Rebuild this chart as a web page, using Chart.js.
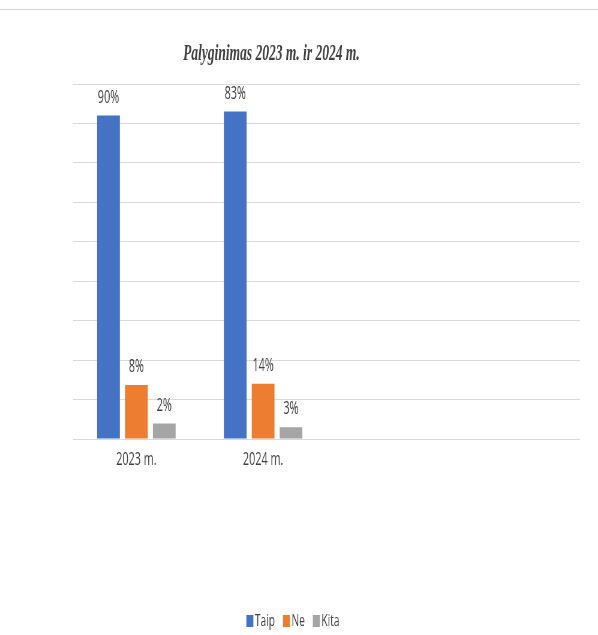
<!DOCTYPE html>
<html>
<head>
<meta charset="utf-8">
<script src="https://cdn.jsdelivr.net/npm/chart.js@4.4.0/dist/chart.umd.min.js"></script>
<style>
  html, body { margin: 0; padding: 0; background: #fff; }
  #wrap { position: relative; width: 598px; height: 635px; overflow: hidden; }
  #topLine { position: absolute; left: 0; top: 9px; width: 598px; height: 1px; background: #d6d6d6; }
  #chart { position: absolute; left: 0; top: 0; }
</style>
</head>
<body>
<div id="wrap">
  <div id="topLine"></div>
  <canvas id="chart" width="997" height="635" style="width:598px;height:635px"></canvas>
</div>
<script>
// data (bar heights on a 0-90 scale, labels as printed)
const categories = ['2023 m.', '2024 m.', '', ''];
const seriesNames = ['Taip', 'Ne', 'Kita'];
const taipValues = [82, 83, 0, 0];
const neValues = [13.7, 14, 0, 0];
const kitaValues = [3.9, 3, 0, 0];
const taipLabels = ['90%', '83%', '', ''];
const neLabels = ['8%', '14%', '', ''];
const kitaLabels = ['2%', '3%', '', ''];
const yTicks = [0, 10, 20, 30, 40, 50, 60, 70, 80, 90];
const chartTitle = 'Palyginimas 2023 m. ir 2024 m.';

// canvas is drawn wider and squeezed back to 598px, so text looks condensed
const SQ = 0.6;
const X = v => v / SQ;

const valueLabels = [taipLabels, neLabels, kitaLabels];
const colors = ['#4472C4', '#ED7D31', '#A5A5A5'];
const textColor = '#404040';

const labelPlugin = {
    id: 'barLabels',
    afterDatasetsDraw(chart) {
        const ctx = chart.ctx;
        ctx.save();
        ctx.font = '18px "Open Sans"';
        ctx.fillStyle = textColor;
        ctx.textAlign = 'center';
        ctx.textBaseline = 'middle';
        chart.data.datasets.forEach((ds, i) => {
            chart.getDatasetMeta(i).data.forEach((bar, j) => {
                const txt = valueLabels[i][j];
                if (!txt) return;
                ctx.fillText(txt, bar.x, bar.y - 18);
            });
        });
        ctx.restore();
    }
};

const titlePlugin = {
    id: 'sideTitle',
    afterDraw(chart) {
        const ctx = chart.ctx;
        ctx.save();
        ctx.font = 'italic bold 22.5px "Liberation Serif"';
        ctx.fillStyle = textColor;
        ctx.textAlign = 'center';
        ctx.textBaseline = 'middle';
        ctx.fillText(chartTitle, X(271.5), 54);
        ctx.restore();
    }
};

const legendPlugin = {
    id: 'bottomLegend',
    afterDraw(chart) {
        const ctx = chart.ctx;
        ctx.save();
        ctx.font = '17px "Open Sans"';
        ctx.textBaseline = 'middle';
        ctx.textAlign = 'left';
        const box = X(7), gap = X(1.5), spacing = X(8);
        const items = chart.data.datasets.map(ds => ({ text: ds.label, color: ds.backgroundColor, w: ctx.measureText(ds.label).width }));
        let total = 0;
        items.forEach((it, i) => { total += box + gap + it.w + (i < items.length - 1 ? spacing : 0); });
        let x = X(293) - total / 2;
        const cy = 621;
        items.forEach(it => {
            ctx.fillStyle = it.color;
            ctx.fillRect(x, cy - 6, box, 12);
            x += box + gap;
            ctx.fillStyle = textColor;
            ctx.fillText(it.text, x, cy);
            x += it.w + spacing;
        });
        ctx.restore();
    }
};

const ctx = document.getElementById('chart').getContext('2d');
const chart = new Chart(ctx, {
    type: 'bar',
    data: {
        labels: categories,
        datasets: [
            { label: seriesNames[0], data: taipValues, backgroundColor: colors[0] },
            { label: seriesNames[1], data: neValues, backgroundColor: colors[1] },
            { label: seriesNames[2], data: kitaValues, backgroundColor: colors[2] }
        ]
    },
    options: {
        responsive: false,
        animation: false,
        devicePixelRatio: 1,
        categoryPercentage: 0.66,
        barPercentage: 0.815,
        layout: {
            padding: { top: 84, left: X(73), right: X(598 - 580), bottom: 136 }
        },
        plugins: {
            legend: { display: false },
            title: { display: false },
            tooltip: { enabled: false }
        },
        scales: {
            x: {
                grid: { display: false, drawTicks: false },
                border: { display: false },
                ticks: {
                    color: textColor,
                    font: { family: 'Open Sans', size: 18 },
                    padding: 10
                },
                // the plot area runs a little past the last category
                afterDataLimits: s => { s.max = categories.length - 1 + 0.122; },
                afterFit: s => { s.height = 60; }
            },
            y: {
                min: 0,
                max: yTicks[yTicks.length - 1],
                afterBuildTicks: s => { s.ticks = yTicks.map(v => ({ value: v })); },
                ticks: { display: false },
                grid: { color: '#d9d9d9', drawTicks: false },
                border: { display: false },
                afterFit: s => { s.width = 0; }
            }
        }
    },
    plugins: [labelPlugin, titlePlugin, legendPlugin]
});
</script>
</body>
</html>
